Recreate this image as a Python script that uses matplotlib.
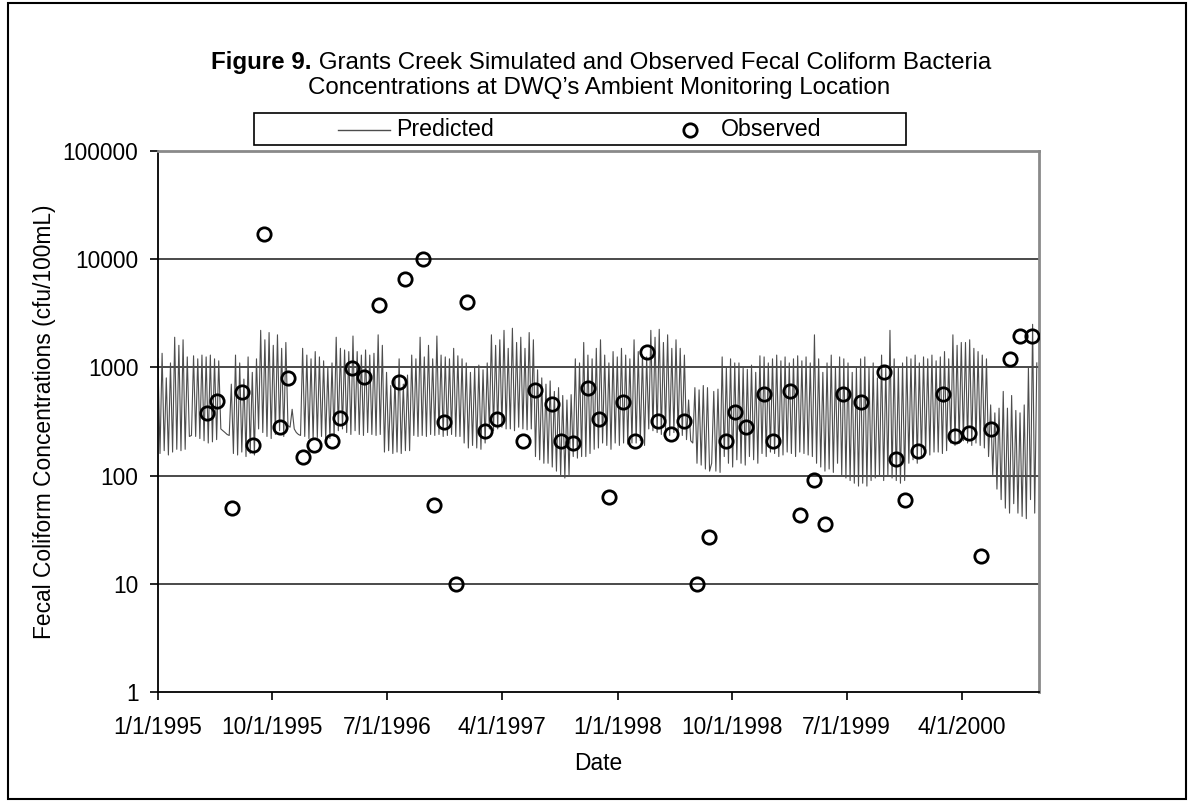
import matplotlib
matplotlib.use("Agg")
import matplotlib.pyplot as plt
from matplotlib.lines import Line2D
from matplotlib.patches import Rectangle
import pandas as pd

plt.rcParams['font.family'] = ['Liberation Sans', 'DejaVu Sans']

# ---------------- data ----------------
# Predicted (simulated) concentrations, every 5 days from 1/1/1995
pred_rows = [
    [1200, 160, 1350, 170, 800, 155],
    [1100, 165, 1900, 175, 1600, 170],
    [1800, 175, 1250, 230, 235, 1280],
    [230, 1200, 220, 1300, 210, 1250],
    [200, 1300, 205, 1200, 215, 1150],
    [270, 260, 250, 240, 235, 700],
    [160, 1300, 155, 1100, 165, 780],
    [150, 1250, 160, 900, 155, 1200],
    [270, 2200, 250, 1800, 230, 2100],
    [220, 1600, 240, 2000, 260, 1500],
    [230, 1700, 290, 280, 410, 270],
    [250, 240, 235, 1500, 230, 1300],
    [220, 1200, 215, 1400, 225, 1250],
    [230, 1150, 215, 1000, 220, 1100],
    [230, 1900, 260, 1500, 270, 1450],
    [250, 1400, 240, 1950, 260, 1400],
    [240, 1300, 235, 1450, 250, 1300],
    [240, 1350, 235, 2000, 240, 1600],
    [165, 900, 170, 680, 160, 800],
    [165, 1200, 160, 700, 170, 850],
    [170, 1300, 235, 1200, 230, 1900],
    [235, 1250, 230, 1600, 240, 1200],
    [235, 1950, 240, 1300, 230, 1250],
    [235, 1200, 240, 1500, 230, 1280],
    [230, 1200, 200, 1100, 180, 900],
    [190, 1000, 180, 1050, 175, 950],
    [200, 1100, 270, 2000, 260, 1600],
    [270, 1800, 280, 2200, 270, 1500],
    [270, 2300, 260, 1700, 280, 1900],
    [270, 1500, 265, 2100, 270, 1800],
    [150, 950, 140, 800, 130, 700],
    [130, 750, 120, 600, 110, 650],
    [100, 550, 95, 500, 100, 560],
    [150, 1200, 145, 1100, 150, 1700],
    [150, 1300, 160, 1200, 175, 1500],
    [180, 1800, 200, 1300, 190, 1100],
    [175, 1400, 200, 1250, 190, 1500],
    [200, 1300, 195, 1200, 200, 1800],
    [200, 1400, 210, 1300, 190, 1250],
    [270, 2200, 260, 1900, 250, 2250],
    [240, 1700, 260, 2000, 235, 1500],
    [250, 1800, 240, 1500, 235, 1300],
    [215, 500, 210, 200, 650, 130],
    [620, 125, 680, 115, 650, 110],
    [130, 600, 110, 630, 107, 1250],
    [150, 1000, 130, 1200, 120, 1100],
    [140, 1100, 130, 1000, 125, 960],
    [150, 1050, 140, 900, 130, 1280],
    [160, 1250, 150, 1100, 165, 1200],
    [160, 1300, 150, 1150, 155, 1250],
    [165, 1100, 160, 1200, 150, 1280],
    [165, 1150, 160, 1250, 155, 1100],
    [150, 2000, 130, 1200, 120, 900],
    [110, 1100, 115, 1300, 107, 1000],
    [130, 1250, 100, 1200, 95, 1100],
    [90, 900, 85, 1000, 80, 1200],
    [85, 1250, 80, 1000, 90, 1100],
    [95, 800, 100, 1300, 90, 1000],
    [100, 2200, 95, 1200, 90, 1000],
    [85, 1100, 90, 1250, 130, 1200],
    [140, 1300, 130, 1100, 150, 1250],
    [160, 1200, 155, 1300, 165, 1150],
    [165, 1250, 160, 1400, 170, 1200],
    [200, 2000, 190, 1600, 200, 1700],
    [210, 1700, 200, 1800, 190, 1500],
    [200, 1400, 190, 1300, 180, 1200],
    [150, 450, 100, 380, 75, 420],
    [60, 600, 50, 420, 45, 550],
    [55, 400, 45, 380, 42, 450],
    [40, 1000, 60, 2500, 45, 1100],
]
pred_start = "1995-01-01"
pred_step = "5D"

obs_dates = [
    "1995-04-27", "1995-05-23", "1995-06-26", "1995-07-20", "1995-08-15",
    "1995-09-11", "1995-10-19", "1995-11-07", "1995-12-13", "1996-01-09",
    "1996-02-20", "1996-03-11", "1996-04-08", "1996-05-07", "1996-06-11",
    "1996-07-29", "1996-08-12", "1996-09-25", "1996-10-19", "1996-11-12",
    "1996-12-11", "1997-01-07", "1997-02-19", "1997-03-19", "1997-05-21",
    "1997-06-19", "1997-07-28", "1997-08-20", "1997-09-17", "1997-10-23",
    "1997-11-18", "1997-12-12", "1998-01-13", "1998-02-12", "1998-03-11",
    "1998-04-07", "1998-05-07", "1998-06-08", "1998-07-08", "1998-08-06",
    "1998-09-17", "1998-10-08", "1998-11-02", "1998-12-16", "1999-01-07",
    "1999-02-16", "1999-03-11", "1999-04-14", "1999-05-11", "1999-06-22",
    "1999-08-03", "1999-09-28", "1999-10-26", "1999-11-16", "1999-12-17",
    "2000-02-16", "2000-03-15", "2000-04-17", "2000-05-17", "2000-06-09",
    "2000-07-25", "2000-08-16", "2000-09-14",
]
obs_values = [
    380, 490, 50, 590, 190,
    17000, 280, 800, 150, 190,
    210, 340, 990, 815, 3800,
    730, 6600, 10000, 54, 310,
    10, 4000, 260, 336, 210,
    620, 460, 210, 200, 640,
    330, 64, 476, 210, 1390,
    320, 240, 320, 10, 27,
    210, 387, 280, 570, 210,
    600, 43, 91, 36, 570,
    480, 906, 141, 60, 170,
    570, 230, 248, 18, 268,
    1190, 1960, 1960,
]

x_ticks = ["1995-01-01", "1995-10-01", "1996-07-01", "1997-04-01",
           "1998-01-01", "1998-10-01", "1999-07-01", "2000-04-01"]
x_tick_labels = ["1/1/1995", "10/1/1995", "7/1/1996", "4/1/1997",
                 "1/1/1998", "10/1/1998", "7/1/1999", "4/1/2000"]
x_limits = ["1995-01-01", "2000-10-01"]
y_ticks = [1, 10, 100, 1000, 10000, 100000]
y_tick_labels = ["1", "10", "100", "1000", "10000", "100000"]

title_bold = "Figure 9."
title_rest = " Grants Creek Simulated and Observed Fecal Coliform Bacteria"
title_line2 = "Concentrations at DWQ\u2019s Ambient Monitoring Location"
x_label = "Date"
y_label = "Fecal Coliform Concentrations (cfu/100mL)"
legend_labels = ["Predicted", "Observed"]

# ---------------- figure ----------------
W, H = 1196, 801
fig = plt.figure(figsize=(W / 100, H / 100), dpi=100)

def fx(px):
    return px / W

def fy(py):
    return 1 - py / H

L, R, T, B = 157.9, 1038.9, 151.0, 692.0
ax = fig.add_axes([fx(L), fy(B), fx(R - L), (B - T) / H])

pred_values = [v for row in pred_rows for v in row]
pred_dates = pd.date_range(pred_start, periods=len(pred_values), freq=pred_step)

line_color = "#4d4d4d"
ax.plot(pred_dates, pred_values, color=line_color, lw=0.8, zorder=2)
ax.plot(pd.to_datetime(obs_dates), obs_values, linestyle="none", marker="o",
        ms=9.6, mfc="none", mec="black", mew=2.0, zorder=3)

ax.set_yscale("log")
ax.set_ylim(y_ticks[0], y_ticks[-1])
ax.set_yticks(y_ticks)
ax.set_yticklabels(y_tick_labels)
ax.yaxis.set_minor_locator(matplotlib.ticker.NullLocator())

ax.set_xlim(pd.to_datetime(x_limits[0]), pd.to_datetime(x_limits[1]))
ax.set_xticks(pd.to_datetime(x_ticks))
ax.set_xticklabels(x_tick_labels)
ax.xaxis.set_minor_locator(matplotlib.ticker.NullLocator())

for yv in y_ticks[1:-1]:
    ax.axhline(yv, color="#3a3a3a", lw=1.3, zorder=1)

fs_axis = 16.4
ax.tick_params(axis="both", direction="out", length=6, width=1.2,
               labelsize=fs_axis, color="black")
ax.tick_params(axis="y", pad=8)
ax.tick_params(axis="x", pad=11)

for side in ["left", "bottom"]:
    ax.spines[side].set_color("black")
    ax.spines[side].set_linewidth(1.3)
for side in ["top", "right"]:
    ax.spines[side].set_color("#8a8a8a")
    ax.spines[side].set_linewidth(2.0)

ax.set_xlabel(x_label, fontsize=fs_axis, labelpad=10)
ax.set_ylabel(y_label, fontsize=fs_axis, labelpad=5)

# outer frame
fig.patches.append(Rectangle((fx(8), fy(799)), fx(1186 - 8), (799 - 3) / H,
                             transform=fig.transFigure, fill=False,
                             edgecolor="black", lw=1.5))

# title (bold prefix + regular rest), centered
fs_title = 17.4
t1 = fig.text(0, fy(63), title_bold, fontsize=fs_title, weight="bold",
              va="center", ha="left")
t2 = fig.text(0, fy(63), title_rest, fontsize=fs_title, va="center", ha="left")
fig.canvas.draw()
r = fig.canvas.get_renderer()
w1 = t1.get_window_extent(r).width
w2 = t2.get_window_extent(r).width
x0 = 601 - (w1 + w2) / 2
t1.set_x(fx(x0))
t2.set_x(fx(x0 + w1))
fig.text(fx(599), fy(88), title_line2, fontsize=fs_title, va="center", ha="center")

# legend box
lx0, lx1, ly0, ly1 = 254, 906, 113, 145
fig.patches.append(Rectangle((fx(lx0), fy(ly1)), fx(lx1 - lx0), (ly1 - ly0) / H,
                             transform=fig.transFigure, fill=False,
                             edgecolor="black", lw=1.2))
ly = fy(129.5)
fig.lines.append(Line2D([fx(338), fx(390)], [ly, ly], transform=fig.transFigure,
                        color=line_color, lw=1.0))
fig.text(fx(396), ly, legend_labels[0], fontsize=16.7, va="center", ha="left")
fig.lines.append(Line2D([fx(690)], [ly], transform=fig.transFigure, marker="o",
                        ms=9.6, mfc="none", mec="black", mew=2.0))
fig.text(fx(721), ly, legend_labels[1], fontsize=16.7, va="center", ha="left")

fig.savefig("out.png", dpi=100)
